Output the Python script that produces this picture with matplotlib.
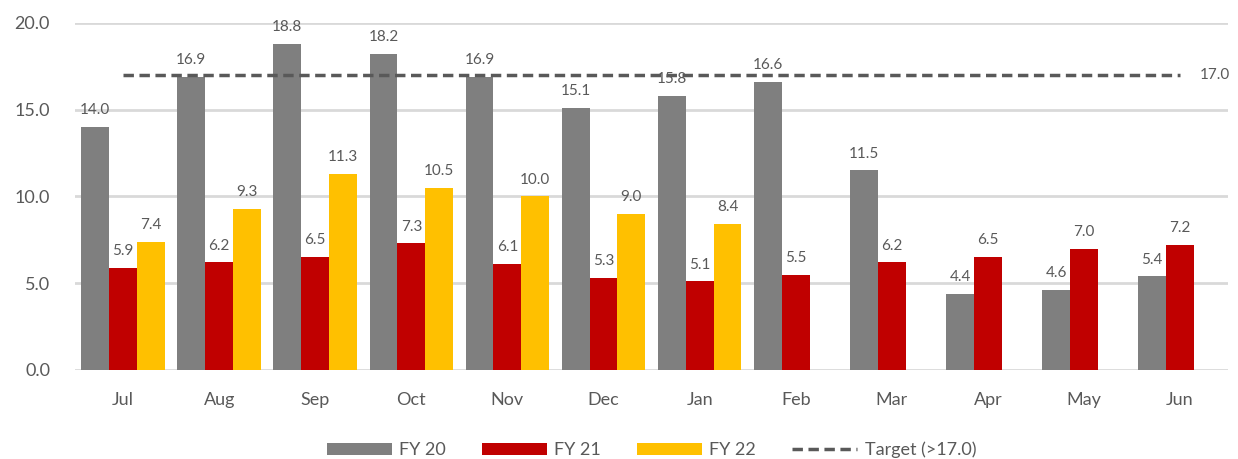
import numpy as np
import matplotlib.pyplot as plt

plt.rcParams['font.family'] = ['Lato', 'DejaVu Sans']

months = ['Jul', 'Aug', 'Sep', 'Oct', 'Nov', 'Dec', 'Jan', 'Feb', 'Mar', 'Apr', 'May', 'Jun']
fy20 = [14.0, 16.9, 18.8, 18.2, 16.9, 15.1, 15.8, 16.6, 11.5, 4.4, 4.6, 5.4]
fy21 = [5.9, 6.2, 6.5, 7.3, 6.1, 5.3, 5.1, 5.5, 6.2, 6.5, 7.0, 7.2]
fy22 = [7.4, 9.3, 11.3, 10.5, 10.0, 9.0, 8.4, None, None, None, None, None]
target = 17.0

txt = '#595959'
series = [('FY 20', fy20, '#7f7f7f'), ('FY 21', fy21, '#c00000'), ('FY 22', fy22, '#ffc000')]

fig = plt.figure(figsize=(12.38, 4.59), dpi=100)
ax = fig.add_axes([0.0606, 0.194, 0.9314, 0.756])

x = np.arange(len(months))
w = 0.29
handles = []
for i, (name, vals, col) in enumerate(series):
    xs = x + (i - 1) * w
    v = np.array([np.nan if a is None else a for a in vals], dtype=float)
    handles.append(ax.bar(xs, v, width=w, color=col, label=name, zorder=3))
    for xi, val in zip(xs, v):
        if not np.isnan(val):
            ax.annotate(f'{val:.1f}', (xi, val), xytext=(0, 7), textcoords='offset points',
                        ha='center', va='bottom', fontsize=11, color=txt)

line, = ax.plot([x[0], x[-1]], [target, target], ls=(0, (3, 1.6)), color='#595959', lw=2.5,
                label='Target (>17.0)', zorder=4)
handles.append(line)
ax.text(x[-1] + 0.36, target, f'{target:.1f}', ha='center', va='center', fontsize=11, color=txt)

ax.set_xlim(-0.5, len(months) - 0.5)
ax.set_ylim(0, 20)
ax.set_yticks(np.arange(0, 20.1, 5))
ax.set_yticklabels([f'{t:.1f}' for t in np.arange(0, 20.1, 5)])
ax.set_xticks(x)
ax.set_xticklabels(months)
ax.tick_params(axis='both', length=0, labelsize=13, labelcolor=txt)
ax.tick_params(axis='x', pad=16)
ax.tick_params(axis='y', pad=18)
ax.grid(axis='y', color='#d9d9d9', lw=2, zorder=0)
for s in ax.spines.values():
    s.set_visible(False)

ax.legend(handles=handles, loc='upper center', bbox_to_anchor=(0.5, -0.16), ncol=4, frameon=False,
          fontsize=13, labelcolor=txt, handlelength=3.6, handleheight=0.6,
          columnspacing=2.0, handletextpad=0.4)

fig.savefig('out.png', dpi=100)
